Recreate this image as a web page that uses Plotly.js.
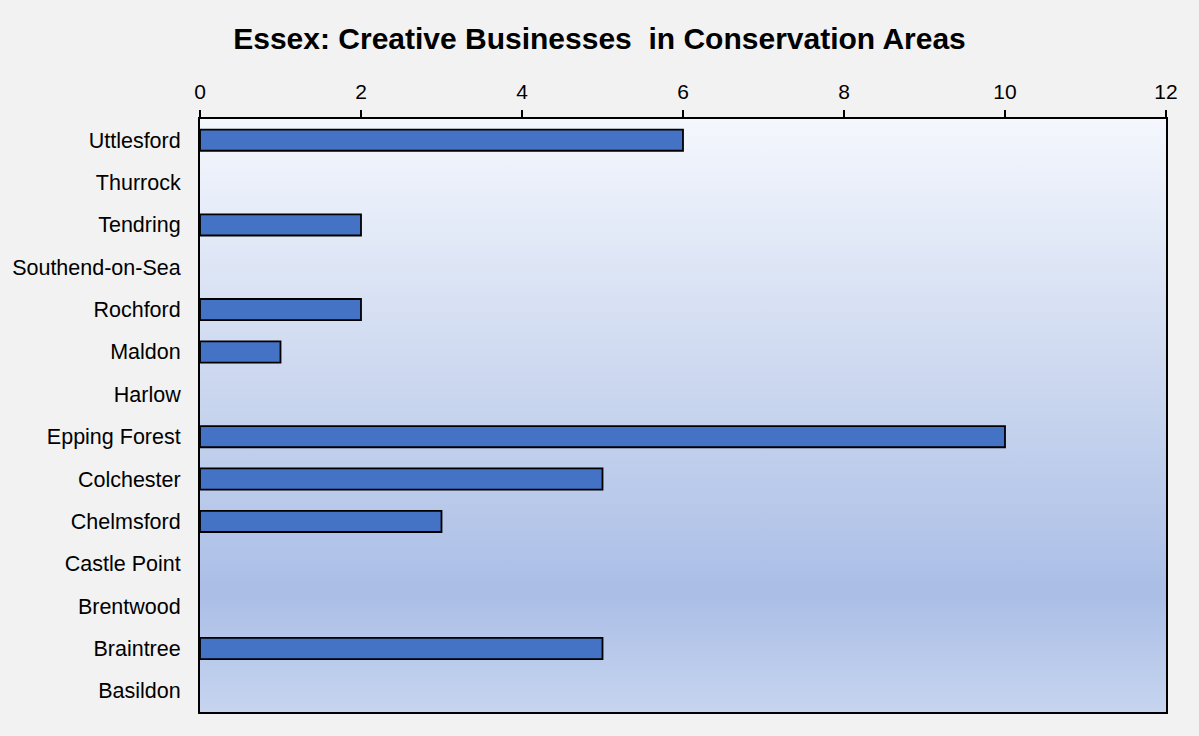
<!DOCTYPE html>
<html>
<head>
<meta charset="utf-8">
<script src="https://cdn.plot.ly/plotly-3.0.1.min.js"></script>
<style>html,body{margin:0;padding:0;background:#f2f2f2;}#chart{width:1199px;height:736px;}</style>
</head>
<body>
<div id="chart"></div>
<script>
const categories = ["Basildon","Braintree","Brentwood","Castle Point","Chelmsford","Colchester","Epping Forest","Harlow","Maldon","Rochford","Southend-on-Sea","Tendring","Thurrock","Uttlesford"];
const values = [0,5,0,0,3,5,10,0,1,2,0,2,0,6];
const xTicks = [0,2,4,6,8,10,12];

const gradSvg = '<svg xmlns="http://www.w3.org/2000/svg" width="100" height="100" preserveAspectRatio="none">' +
  '<defs><linearGradient id="g" x1="0" y1="0" x2="0" y2="1">' +
  '<stop offset="0" stop-color="#f4f7fd"/>' +
  '<stop offset="0.45" stop-color="#cbd7ef"/>' +
  '<stop offset="0.8" stop-color="#aabee6"/>' +
  '<stop offset="1" stop-color="#c6d4ef"/>' +
  '</linearGradient></defs><rect width="100" height="100" fill="url(#g)"/></svg>';
const gradUri = 'data:image/svg+xml;base64,' + btoa(gradSvg);

const trace = {
  type: 'bar',
  orientation: 'h',
  y: categories,
  x: values,
  width: 0.5,
  marker: {color: '#4472c4', line: {color: '#000000', width: values.map(v => v ? 1.8 : 0)}},
  hoverinfo: 'x+y'
};

const FONT = 'Liberation Sans, Arial, sans-serif';

const layout = {
  width: 1199,
  height: 736,
  paper_bgcolor: '#f2f2f2',
  plot_bgcolor: 'rgba(0,0,0,0)',
  margin: {l: 200, r: 33, t: 119, b: 24},
  title: {
    text: '<b>Essex: Creative Businesses&nbsp; in Conservation Areas</b>',
    font: {family: FONT, size: 30, color: '#000'},
    x: 0.5, xanchor: 'center', y: 0.948, yanchor: 'middle'
  },
  xaxis: {
    side: 'top',
    range: [0, 12],
    tickvals: xTicks,
    ticktext: xTicks.map(String),
    ticks: 'outside',
    ticklen: 7,
    tickwidth: 2,
    tickcolor: '#000',
    showgrid: false,
    zeroline: false,
    showline: true,
    linecolor: '#000',
    linewidth: 2,
    mirror: true,
    ticklabelstandoff: 3,
    tickfont: {family: FONT, size: 21, color: '#000'},
    fixedrange: true
  },
  yaxis: {
    type: 'category',
    categoryorder: 'array',
    categoryarray: categories,
    ticks: '',
    showgrid: false,
    zeroline: false,
    showline: true,
    linecolor: '#000',
    linewidth: 2,
    mirror: true,
    ticklabelstandoff: 13,
    tickfont: {family: FONT, size: 21.5, color: '#000'},
    fixedrange: true
  },
  images: [{
    source: gradUri,
    xref: 'paper', yref: 'paper',
    x: 0, y: 1, sizex: 1, sizey: 1,
    xanchor: 'left', yanchor: 'top',
    sizing: 'stretch',
    layer: 'below'
  }],
  showlegend: false
};

Plotly.newPlot('chart', [trace], layout, {displayModeBar: false, staticPlot: true});
</script>
</body>
</html>
